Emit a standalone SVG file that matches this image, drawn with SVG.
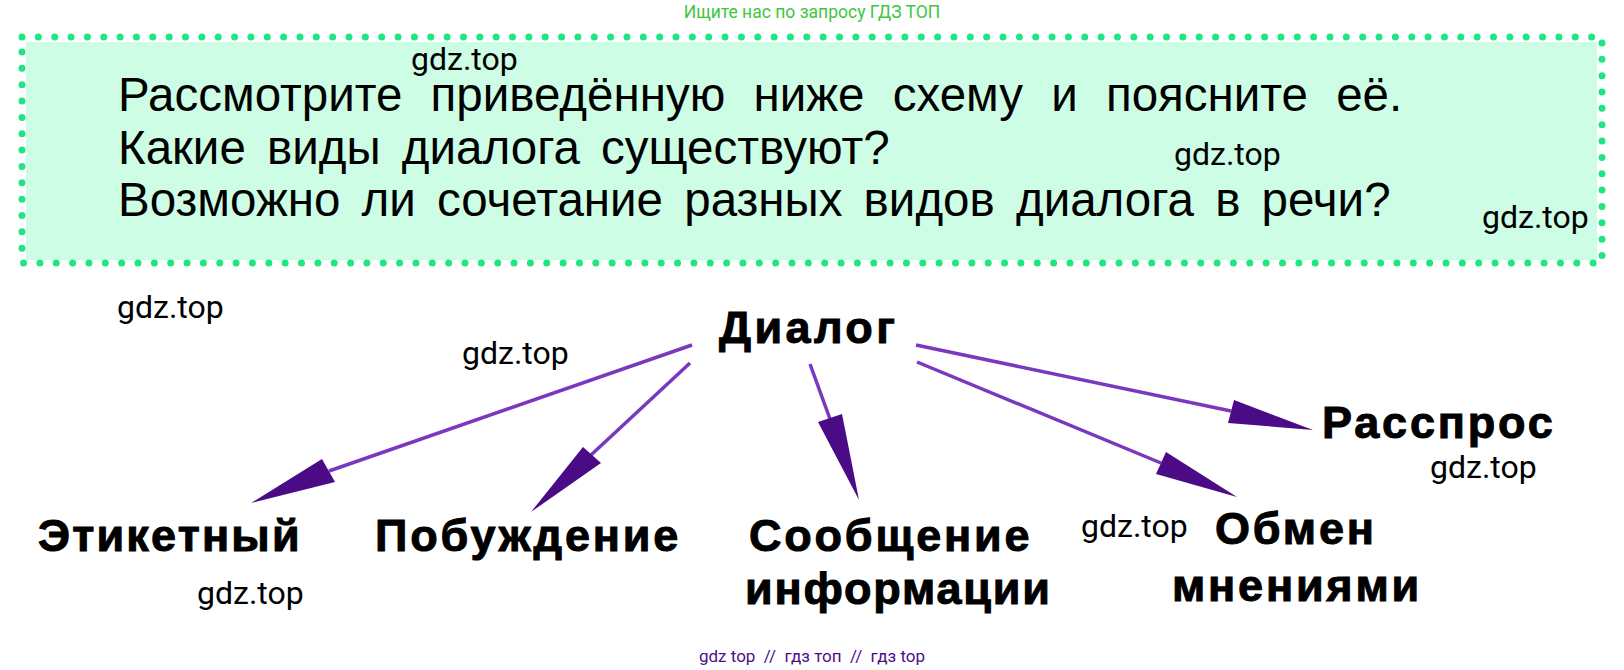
<svg xmlns="http://www.w3.org/2000/svg" width="1624" height="670" viewBox="0 0 1624 670">
<style>
.wm{font-family:Roboto,"Liberation Sans",sans-serif;font-size:32px;fill:#000}
.q{font-family:"Liberation Sans",Arial,sans-serif;font-size:47.5px;fill:#000;word-spacing:8px}
.n{font-family:"Liberation Sans",Arial,sans-serif;font-size:45px;font-weight:bold;fill:#000;stroke:#000;stroke-width:1;letter-spacing:2.8px}
.ln{stroke:#7a38bf;stroke-width:3.5;fill:none}
.hd{fill:#4b0a86}
</style>
<rect width="1624" height="670" fill="#fff"/>
<text x="812" y="18" text-anchor="middle" font-family="Roboto,'Liberation Sans',sans-serif" font-size="17.5" fill="#3ec63e">Ищите нас по запросу ГДЗ ТОП</text>
<g id="question">
<rect x="26" y="42" width="1571" height="218" fill="#cdfde5"/>
<rect x="22" y="37" width="1580" height="226" fill="none" stroke="#1fe582" stroke-width="7" stroke-linecap="round" stroke-dasharray="0 16.35"/>
<text class="q" x="118" y="111" style="word-spacing:15px">Рассмотрите приведённую ниже схему и поясните её.</text>
<text class="q" x="118" y="164">Какие виды диалога существуют?</text>
<text class="q" x="118" y="216">Возможно ли сочетание разных видов диалога в речи?</text>
</g>
<g id="watermarks">
<text class="wm" x="411" y="70">gdz.top</text>
<text class="wm" x="1174" y="165">gdz.top</text>
<text class="wm" x="1482" y="228">gdz.top</text>
<text class="wm" x="117" y="318">gdz.top</text>
<text class="wm" x="462" y="364">gdz.top</text>
<text class="wm" x="1430" y="478">gdz.top</text>
<text class="wm" x="1081" y="537">gdz.top</text>
<text class="wm" x="197" y="604">gdz.top</text>
</g>
<g id="connectors">
<line class="ln" x1="692" y1="345" x2="329" y2="471"/>
<polygon class="hd" points="322,459 335,482 251,503"/>
<line class="ln" x1="690" y1="363" x2="591" y2="455"/>
<polygon class="hd" points="583,447 601,463 531,512"/>
<line class="ln" x1="810" y1="364" x2="830" y2="419"/>
<polygon class="hd" points="818,422 842,414 859,500"/>
<line class="ln" x1="917" y1="362" x2="1161" y2="463"/>
<polygon class="hd" points="1166,452 1156,474 1237,497"/>
<line class="ln" x1="916" y1="345" x2="1231" y2="411"/>
<polygon class="hd" points="1234,400 1228,423 1313,430"/>
</g>
<g id="node-dialog"><text class="n" x="719" y="343" style="letter-spacing:3.4px">Диалог</text></g>
<g id="node-rasspros"><text class="n" x="1322" y="438">Расспрос</text></g>
<g id="node-etiket"><text class="n" x="38" y="551" style="letter-spacing:2.2px">Этикетный</text></g>
<g id="node-pobuzhd"><text class="n" x="375" y="551">Побуждение</text></g>
<g id="node-soobshch"><text class="n" x="749" y="551">Сообщение</text><text class="n" x="745" y="604" style="letter-spacing:1.8px">информации</text></g>
<g id="node-obmen"><text class="n" x="1215" y="544">Обмен</text><text class="n" x="1172" y="601">мнениями</text></g>
<text x="812" y="662" text-anchor="middle" font-family="Roboto,'Liberation Sans',sans-serif" font-size="17" fill="#4b0f8a" xml:space="preserve">gdz top  //  гдз топ  //  гдз top</text>
</svg>
